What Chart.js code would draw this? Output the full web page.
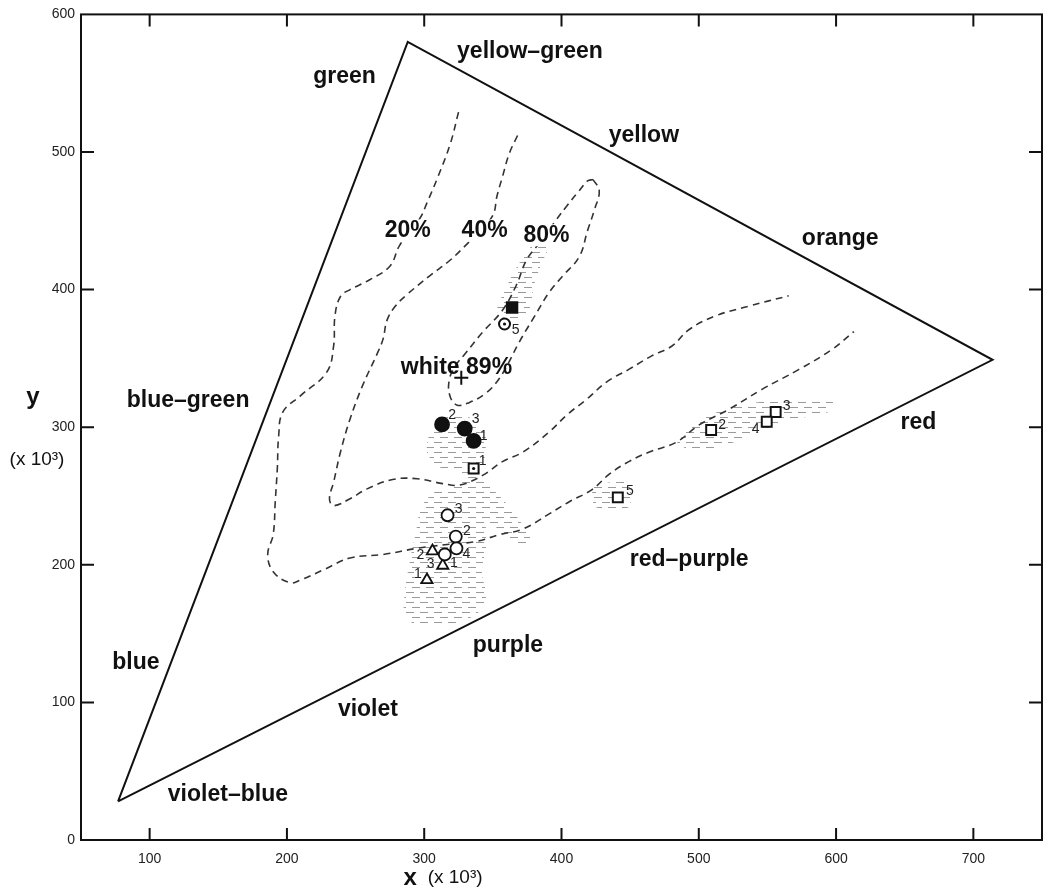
<!DOCTYPE html>
<html>
<head>
<meta charset="utf-8">
<script src="https://cdn.jsdelivr.net/npm/chart.js@4/dist/chart.umd.min.js"></script>
<style>
  html, body { margin: 0; padding: 0; background: #fff; }
</style>
</head>
<body>
<canvas id="chart" width="1052" height="890"></canvas>
<script>
// values, x and y in units of 10^-3
const xTicks = [100, 200, 300, 400, 500, 600, 700];
const yTicks = [0, 100, 200, 300, 400, 500, 600];

// blue, green, red corners of the spectrum triangle
const spectrumTriangle = [[77, 28], [288, 580], [714, 349], [77, 28]];

const contour20 = [
  [325, 529], [319, 506], [310, 482], [302, 463], [297, 452], [282, 432], [275, 417],
  [260, 407], [246, 400], [239, 395], [235, 381], [234, 359], [229, 340], [210, 323],
  [197, 311], [194, 294], [193, 270], [191.5, 246], [190, 222], [186, 207.5], [190, 195],
  [202, 187], [210, 189], [228, 197], [246, 205], [270, 207.5], [295, 212], [319, 215],
  [338, 217], [355, 222], [372, 226], [391, 237], [406, 246], [422, 254.5], [435, 266],
  [449, 275], [464, 282], [483.5, 289], [500, 301.5], [522, 313], [546, 327.5],
  [573, 342], [597, 356.5], [613, 369.5]
];
const contour40 = [
  [368, 512], [362, 499], [357, 482], [353, 468], [350, 454], [340, 442.5], [332, 434],
  [319, 421.5], [304, 410], [287, 396], [279, 388], [273, 378], [270, 364], [266, 354],
  [255, 330], [246, 306], [239, 282], [234, 260], [231, 248], [234, 243], [246, 248],
  [258, 255], [277, 262], [295, 262.5], [313.5, 259], [326, 258], [342.5, 265],
  [357, 275], [372, 282], [391, 296.5], [404, 309], [418, 320], [433, 333], [449, 342],
  [466, 352], [480.5, 359], [493, 371], [512.5, 381], [536.5, 388], [565.5, 395.5]
];
const contour80 = [
  [423, 480], [427.5, 472], [424, 458], [419, 443], [413, 424], [401, 410], [391, 398],
  [380, 380], [369, 361.5], [361, 346], [353, 333], [344, 324], [333, 318], [324, 316],
  [319, 322], [318, 333], [322, 343.5], [329.5, 353], [342.5, 369], [357, 385],
  [367, 403], [374.5, 421.5], [384, 434], [396, 450.5], [404, 461], [413, 472],
  [419, 479], [423, 480]
];

// hatched scatter zones
const hatchWhiteBand = [
  [380, 434], [390, 431], [385, 418], [380, 403], [377, 387], [369, 377], [358.5, 379],
  [353, 385], [358, 398], [366, 414], [374.5, 427], [380, 434]
];
const hatchCentre = [
  [305.5, 296.5], [315, 307], [333, 307], [344, 296.5], [344, 278], [340, 267.5],
  [346, 259], [358.5, 246], [369, 233], [378, 217], [371, 213], [358.5, 222], [346, 231],
  [345, 213], [342, 195], [345, 177], [339, 165], [322, 157.5], [297, 155.5], [286, 163],
  [286, 181], [289.5, 202.5], [294, 224], [298, 242], [308, 253], [322, 257], [329.5, 262],
  [324, 267.5], [311, 271], [302.5, 280.5], [302.5, 291], [305.5, 296.5]
];
const hatchRedBand = [
  [484, 289], [500, 305], [525.5, 314.5], [558, 320], [597, 319.5], [594.5, 311],
  [565.5, 305], [544, 296.5], [525.5, 289], [507, 284], [493, 283.5], [484, 289]
];
const hatchSquare5 = [[424, 258], [448, 260], [449, 242], [426, 241.5], [422, 249.5], [424, 258]];

// sample points
const whitePoint = [[327, 336]];
const filledCircles = [[336, 290], [313, 302], [329.5, 299]];
const filledCircleIds = ['1', '2', '3'];
const filledSquare = [[364, 387]];
const dottedCircle = [[358.5, 375]];
const dottedCircleIds = ['5'];
const openSquares = [[336, 270], [509, 298], [556, 311], [549.5, 304], [441, 249]];
const openSquareIds = ['1', '2', '3', '4', '5'];
const openCircles = [[315, 207.5], [323, 220.5], [317, 236], [323.5, 212]];
const openCircleIds = ['1', '2', '3', '4'];
const triangles = [[302, 189], [306, 210], [313.5, 199.5]];
const triangleIds = ['1', '2', '3'];

// ---- layout / style ----
const FONT = '"Liberation Sans", Arial, Helvetica, sans-serif';
const INK = '#111';

// pixel offsets of the small id numbers from their marker
const filledCircleIdOffsets = [[10, -5], [10, -9], [11, -9]];
const dottedCircleIdOffsets = [[11, 6]];
const openSquareIdOffsets = [[9, -7], [11, -5], [11, -6], [-11, 7], [12, -6]];
const openCircleIdOffsets = [[9, 9], [11, -5], [11, -6], [10, 6]];
const triangleIdOffsets = [[-9, -6], [-12, 4], [-12, -1]];

const regionLabels = [
  { text: 'green', x: 242, y: 555 },
  { text: 'yellow\u2013green', x: 377, y: 573 },
  { text: 'yellow', x: 460, y: 512 },
  { text: 'orange', x: 603, y: 437 },
  { text: 'red', x: 660, y: 303 },
  { text: 'red\u2013purple', x: 493, y: 204 },
  { text: 'purple', x: 361, y: 141 },
  { text: 'violet', x: 259, y: 95 },
  { text: 'violet\u2013blue', x: 157, y: 33 },
  { text: 'blue', x: 90, y: 129 },
  { text: 'blue\u2013green', x: 128, y: 319 },
  { text: 'white 89%', x: 323.5, y: 343.5 },
  { text: '20%', x: 288, y: 443, knockout: true },
  { text: '40%', x: 344, y: 443, knockout: true },
  { text: '80%', x: 389, y: 439.5, knockout: true }
];

function pts(list) {
  return list.map(p => ({ x: p[0], y: p[1] }));
}

// short grey dashes in staggered rows, like the scanned shading
function hatchPattern() {
  const c = document.createElement('canvas');
  c.width = 14;
  c.height = 10;
  const g = c.getContext('2d');
  g.strokeStyle = '#9a9a9a';
  g.lineWidth = 1;
  g.beginPath();
  g.moveTo(0, 2.5); g.lineTo(8, 2.5);
  g.moveTo(6, 7.5); g.lineTo(14, 7.5);
  g.stroke();
  return g.createPattern(c, 'repeat');
}
const hatch = hatchPattern();

function contourSet(data) {
  return {
    type: 'line', data: pts(data), borderColor: '#333', borderWidth: 1.6,
    borderDash: [7, 5], tension: 0.4, pointRadius: 0, fill: false, order: 5
  };
}
function hatchSet(data) {
  return {
    type: 'line', data: pts(data), borderWidth: 0, borderColor: 'rgba(0,0,0,0)',
    backgroundColor: hatch, fill: 'shape', tension: 0.3, pointRadius: 0, order: 10
  };
}
function markerSet(data, style, extra) {
  return Object.assign({
    type: 'scatter', data: pts(data), pointStyle: style, pointBorderColor: INK,
    pointBackgroundColor: '#fff', pointBorderWidth: 1.8, order: 1
  }, extra);
}

const datasets = [
  markerSet([...openSquares.slice(0, 1), ...dottedCircle], 'circle',
    { pointRadius: 1.6, pointBackgroundColor: INK, pointBorderWidth: 0, order: 0 }),
  markerSet(whitePoint, 'cross', { pointRadius: 7, pointBorderWidth: 2 }),
  markerSet(filledCircles, 'circle', { pointRadius: 7, pointBackgroundColor: INK,
    ids: filledCircleIds, idOffsets: filledCircleIdOffsets }),
  markerSet(filledSquare, 'rect', { pointRadius: 7.5, pointBackgroundColor: INK }),
  markerSet(dottedCircle, 'circle', { pointRadius: 5.5, pointBorderWidth: 2,
    ids: dottedCircleIds, idOffsets: dottedCircleIdOffsets }),
  markerSet(openSquares, 'rect', { pointRadius: 7, pointBorderWidth: 2,
    ids: openSquareIds, idOffsets: openSquareIdOffsets }),
  markerSet(openCircles, 'circle', { pointRadius: 6,
    ids: openCircleIds, idOffsets: openCircleIdOffsets }),
  markerSet(triangles, 'triangle', { pointRadius: 6.5,
    ids: triangleIds, idOffsets: triangleIdOffsets }),
  {
    type: 'line', data: pts(spectrumTriangle), borderColor: INK, borderWidth: 2,
    tension: 0, pointRadius: 0, fill: false, order: 4
  },
  contourSet(contour20),
  contourSet(contour40),
  contourSet(contour80),
  hatchSet(hatchWhiteBand),
  hatchSet(hatchCentre),
  hatchSet(hatchRedBand),
  hatchSet(hatchSquare5)
];

// frame, inward ticks, region names, ids and axis titles
const decorations = {
  id: 'decorations',
  afterDatasetsDraw(chart) {
    const { ctx, scales: { x, y } } = chart;
    ctx.save();
    ctx.textAlign = 'center';
    ctx.textBaseline = 'middle';
    ctx.font = 'bold 23px ' + FONT;
    regionLabels.forEach(l => {
      const px = x.getPixelForValue(l.x);
      const py = y.getPixelForValue(l.y);
      if (l.knockout) {
        const w = ctx.measureText(l.text).width;
        ctx.fillStyle = '#fff';
        ctx.fillRect(px - w / 2 - 3, py - 11, w + 6, 22);
      }
      ctx.fillStyle = INK;
      ctx.fillText(l.text, px, py);
    });

    ctx.font = '14px ' + FONT;
    ctx.fillStyle = '#222';
    chart.data.datasets.forEach((ds, i) => {
      if (!ds.ids) return;
      chart.getDatasetMeta(i).data.forEach((el, j) => {
        const off = ds.idOffsets[j];
        ctx.fillText(ds.ids[j], el.x + off[0], el.y + off[1]);
      });
    });
    ctx.restore();
  },
  afterDraw(chart) {
    const { ctx, chartArea: a, scales: { x, y } } = chart;
    ctx.save();
    ctx.strokeStyle = INK;
    ctx.lineWidth = 2;
    ctx.strokeRect(a.left, a.top, a.right - a.left, a.bottom - a.top);
    ctx.beginPath();
    xTicks.forEach(v => {
      const px = x.getPixelForValue(v);
      ctx.moveTo(px, a.bottom); ctx.lineTo(px, a.bottom - 12);
      ctx.moveTo(px, a.top); ctx.lineTo(px, a.top + 12);
    });
    yTicks.forEach(v => {
      if (v <= y.min || v >= y.max) return;
      const py = y.getPixelForValue(v);
      ctx.moveTo(a.left, py); ctx.lineTo(a.left + 13, py);
      ctx.moveTo(a.right, py); ctx.lineTo(a.right - 13, py);
    });
    ctx.stroke();

    // axis titles
    ctx.fillStyle = INK;
    ctx.textBaseline = 'middle';
    ctx.textAlign = 'center';
    ctx.font = 'bold 24px ' + FONT;
    ctx.fillText('y', a.left - 48, y.getPixelForValue(322));
    ctx.font = '19px ' + FONT;
    ctx.fillText('(x 10\u00b3)', a.left - 44, y.getPixelForValue(276));

    ctx.textAlign = 'left';
    const bx = x.getPixelForValue(285);
    const by = a.bottom + 38;
    ctx.font = 'bold 24px ' + FONT;
    ctx.fillText('x', bx, by);
    const w = ctx.measureText('x ').width;
    ctx.font = '19px ' + FONT;
    ctx.fillText('(x 10\u00b3)', bx + w + 4, by);
    ctx.restore();
  }
};

new Chart(document.getElementById('chart'), {
  type: 'scatter',
  data: { datasets },
  options: {
    responsive: false,
    animation: false,
    layout: { padding: { top: 10, right: 10, left: 0, bottom: 0 } },
    plugins: { legend: { display: false }, tooltip: { enabled: false } },
    scales: {
      x: {
        type: 'linear', min: 50, max: 750,
        grid: { display: false, drawTicks: false },
        border: { display: false },
        afterBuildTicks: s => { s.ticks = xTicks.map(v => ({ value: v })); },
        afterFit: s => { s.height = 50; },
        ticks: { padding: 11, color: '#222', font: { size: 14, family: FONT } }
      },
      y: {
        type: 'linear', min: 0, max: 600,
        grid: { display: false, drawTicks: false },
        border: { display: false },
        afterBuildTicks: s => { s.ticks = yTicks.map(v => ({ value: v })); },
        afterFit: s => { s.width = 81; },
        ticks: { padding: 6, color: '#222', font: { size: 14, family: FONT } }
      }
    }
  },
  plugins: [decorations]
});
</script>
</body>
</html>
